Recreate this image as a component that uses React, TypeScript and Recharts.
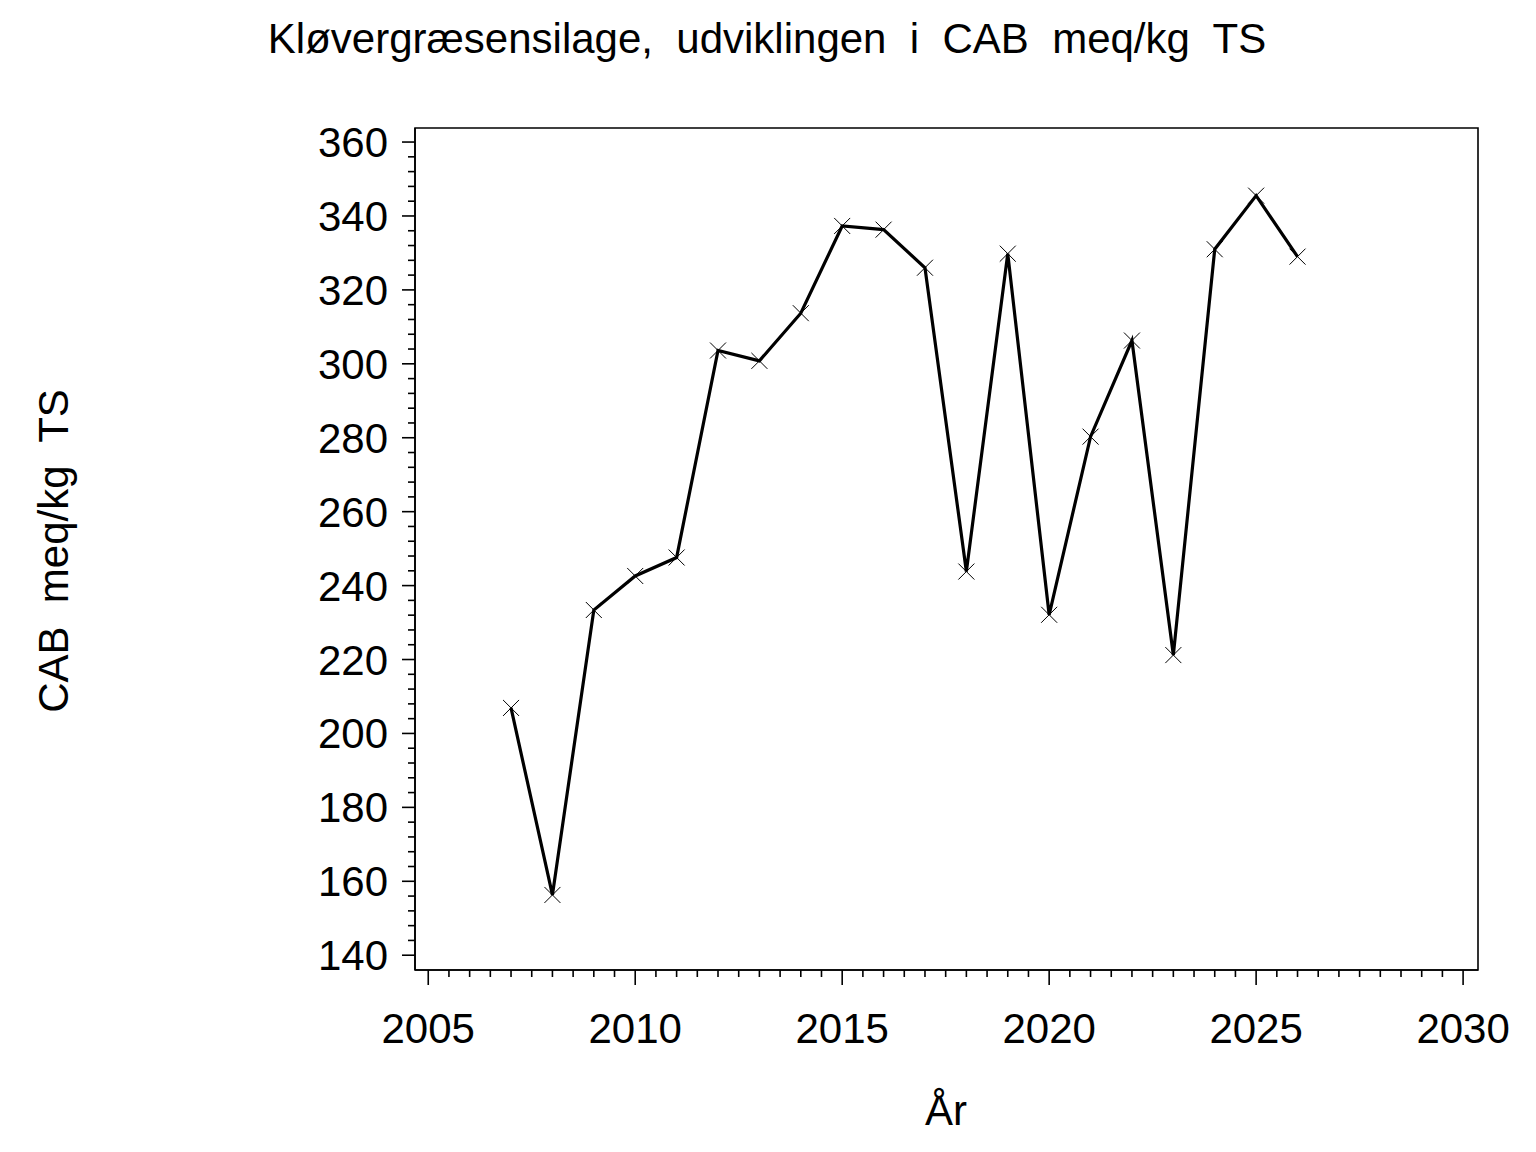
import React from "react";
import { LineChart, Line, XAxis, YAxis, ReferenceArea } from "recharts";

const years = [
  2007, 2008, 2009, 2010, 2011, 2012, 2013, 2014, 2015, 2016, 2017, 2018,
  2019, 2020, 2021, 2022, 2023, 2024, 2025, 2026,
];
const cab = [
  206.9, 156.3, 233.4, 242.6, 247.6, 303.6, 300.8, 313.7, 337.3, 336.3, 326.0,
  243.8, 329.8, 232.1, 280.3, 306.3, 221.2, 331.0, 345.5, 329.0,
];
const yMajor = [140, 160, 180, 200, 220, 240, 260, 280, 300, 320, 340, 360];
const xMajor = [2005, 2010, 2015, 2020, 2025, 2030];

const TITLE = "Kløvergræsensilage,  udviklingen  i  CAB  meq/kg  TS";
const Y_TITLE = "CAB  meq/kg  TS";
const X_TITLE = "År";

const W = 1536;
const H = 1152;
const FONT = "'Liberation Sans', Arial, sans-serif";
const INK = "#000";

const X_DOMAIN: [number, number] = [2004.68, 2030.36];
const Y_DOMAIN: [number, number] = [136, 363.8];

// minor ticks: 5 steps between y majors, 10 between x majors
const subdivide = (major: number[], n: number) =>
  major.flatMap((m, i) => {
    if (i === major.length - 1) return [m];
    const step = (major[i + 1] - m) / n;
    return Array.from({ length: n }, (_, k) => m + k * step);
  });
const yTicks = subdivide(yMajor, 5);
const xTicks = subdivide(xMajor, 10);

const data = years.map((year, i) => ({ year, cab: cab[i] }));

function YTick({ x, y, payload }: any) {
  const major = yMajor.includes(payload.value);
  return (
    <g>
      <line x1={x} x2={x - (major ? 13 : 7)} y1={y} y2={y} stroke={INK} strokeWidth={1.6} />
      {major && (
        <text x={x - 27} y={y + 15} textAnchor="end" fontSize={42} fontFamily={FONT} fill={INK}>
          {payload.value}
        </text>
      )}
    </g>
  );
}

function XTick({ x, y, payload }: any) {
  const major = xMajor.includes(payload.value);
  return (
    <g>
      <line x1={x} x2={x} y1={y} y2={y + (major ? 15 : 7)} stroke={INK} strokeWidth={1.6} />
      {major && (
        <text x={x} y={y + 73} textAnchor="middle" fontSize={42} fontFamily={FONT} fill={INK}>
          {payload.value}
        </text>
      )}
    </g>
  );
}

function Cross({ cx, cy }: any) {
  if (cx == null || cy == null) return null;
  const r = 8;
  return (
    <g stroke={INK} strokeWidth={1}>
      <line x1={cx - r} y1={cy - r} x2={cx + r} y2={cy + r} />
      <line x1={cx - r} y1={cy + r} x2={cx + r} y2={cy - r} />
    </g>
  );
}

export default function App() {
  return (
    <div style={{ position: "absolute", left: 0, top: 0, width: W, height: H, background: "#fff" }}>
      <LineChart
        width={W}
        height={H}
        data={data}
        margin={{ top: 128, right: 58, bottom: 122, left: 315 }}
      >
        <XAxis
          dataKey="year"
          type="number"
          domain={X_DOMAIN}
          allowDataOverflow
          ticks={xTicks}
          interval={0}
          tick={<XTick />}
          tickLine={false}
          tickSize={0}
          tickMargin={0}
          height={60}
          axisLine={{ stroke: INK, strokeWidth: 1.6 }}
        />
        <YAxis
          type="number"
          domain={Y_DOMAIN}
          allowDataOverflow
          ticks={yTicks}
          interval={0}
          tick={<YTick />}
          tickLine={false}
          tickSize={0}
          tickMargin={0}
          width={100}
          axisLine={{ stroke: INK, strokeWidth: 1.6 }}
        />
        {/* plot frame */}
        <ReferenceArea
          x1={X_DOMAIN[0]}
          x2={X_DOMAIN[1]}
          y1={Y_DOMAIN[0]}
          y2={Y_DOMAIN[1]}
          fill="none"
          fillOpacity={0}
          stroke={INK}
          strokeWidth={1.6}
          strokeOpacity={1}
        />
        <Line
          dataKey="cab"
          stroke={INK}
          strokeWidth={3.2}
          dot={<Cross />}
          activeDot={false}
          isAnimationActive={false}
        />
      </LineChart>
      <svg
        width={W}
        height={H}
        style={{ position: "absolute", left: 0, top: 0, pointerEvents: "none" }}
      >
        <text
          x={767}
          y={53}
          textAnchor="middle"
          fontSize={42}
          fontFamily={FONT}
          fill={INK}
          style={{ whiteSpace: "pre" }}
        >
          {TITLE}
        </text>
        <text
          x={946}
          y={1125}
          textAnchor="middle"
          fontSize={42}
          fontFamily={FONT}
          fill={INK}
        >
          {X_TITLE}
        </text>
        <text
          x={68}
          y={551}
          transform="rotate(-90 68 551)"
          textAnchor="middle"
          fontSize={42}
          fontFamily={FONT}
          fill={INK}
          style={{ whiteSpace: "pre" }}
        >
          {Y_TITLE}
        </text>
      </svg>
    </div>
  );
}
